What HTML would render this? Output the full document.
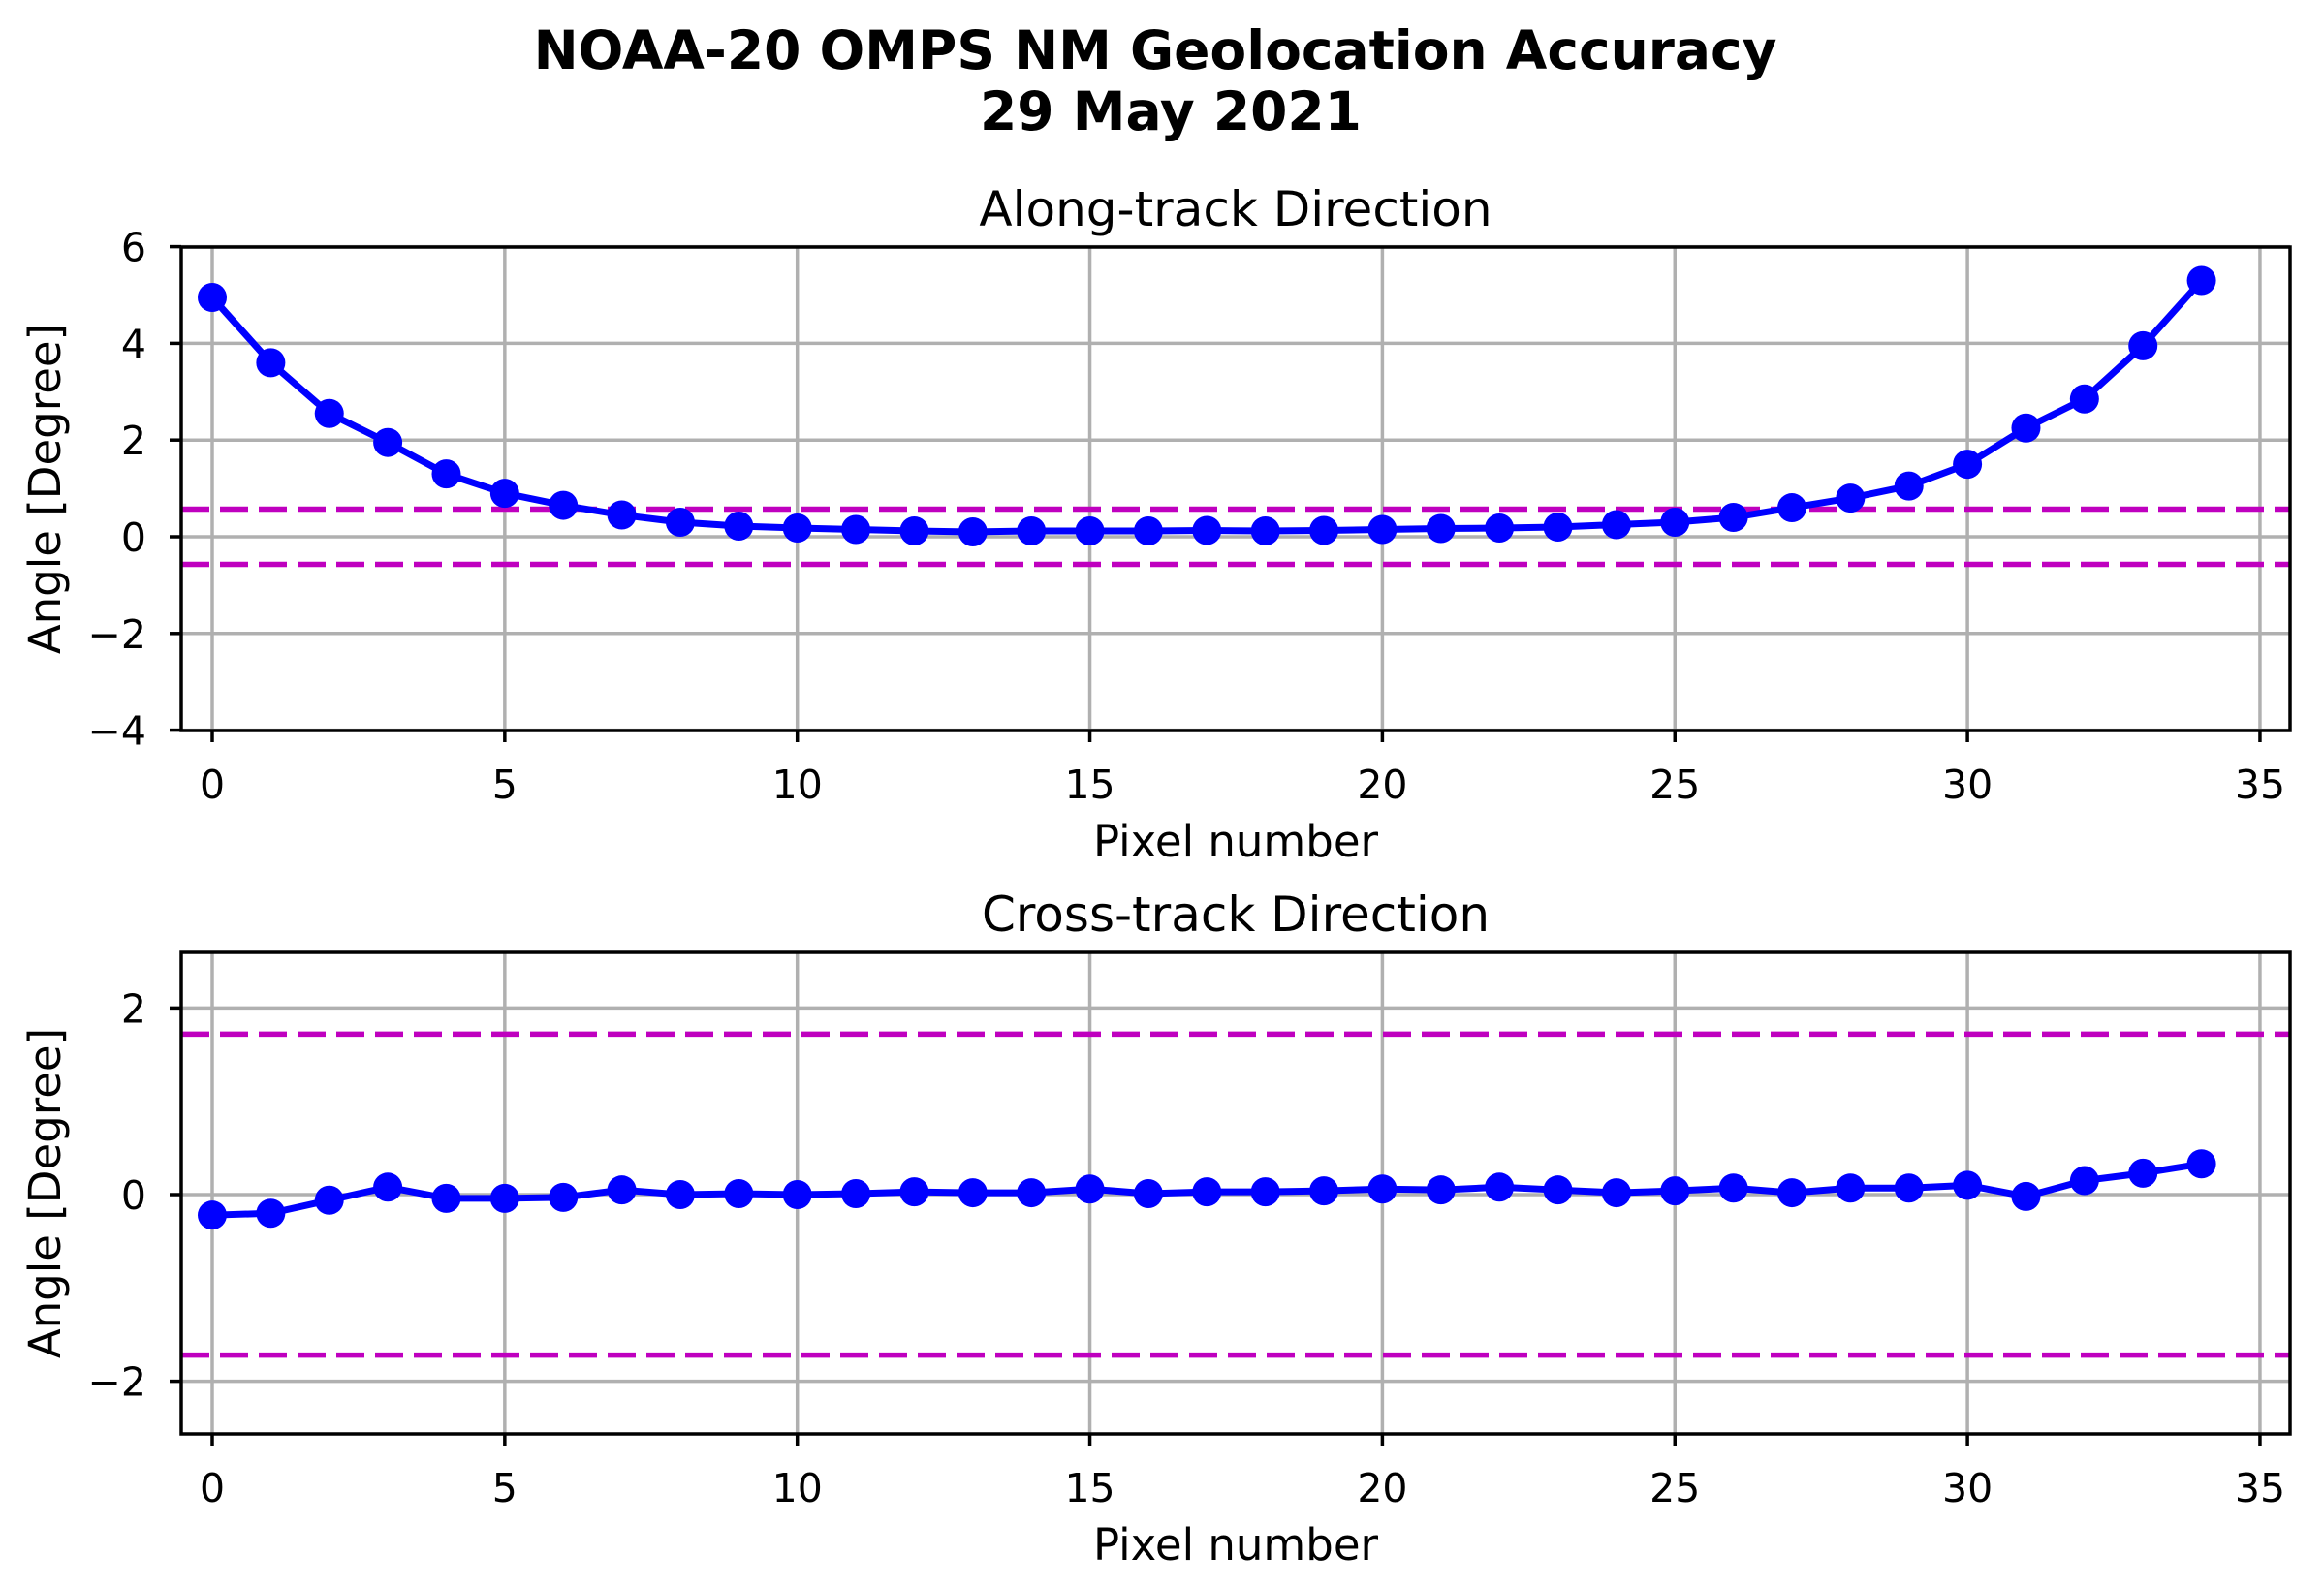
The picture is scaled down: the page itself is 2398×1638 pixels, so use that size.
<!DOCTYPE html>
<html><head><meta charset="utf-8"><style>body{margin:0;background:#fff}svg{display:block}</style></head>
<body>
<svg id="s" width="2398" height="1638" xmlns="http://www.w3.org/2000/svg" font-family="DejaVu Sans, Liberation Sans, sans-serif">
<text x="1192" y="71" text-anchor="middle" font-size="55" font-weight="bold">NOAA-20 OMPS NM Geolocation Accuracy</text>
<text x="1208" y="134" text-anchor="middle" font-size="55" font-weight="bold">29 May 2021</text>
</svg>
<script>
const s=document.getElementById('s');const NS='http://www.w3.org/2000/svg';
function el(t,a,txt){const e=document.createElementNS(NS,t);for(const k in a)e.setAttribute(k,a[k]);if(txt!==undefined)e.textContent=txt;s.appendChild(e);return e;}
const L=187,R=2363,x0=219,xs=60.37;
const X=v=>x0+v*xs;
function panel(top,bot,y0,ys,yt,title,data,dash){
 const Y=v=>y0-v*ys;
 for(let i=0;i<=35;i+=5){el('line',{x1:X(i),x2:X(i),y1:top,y2:bot,stroke:'#b0b0b0','stroke-width':3.5});
  el('line',{x1:X(i),x2:X(i),y1:bot,y2:bot+12,stroke:'#000','stroke-width':3.5});
  el('text',{x:X(i),y:bot+70,'text-anchor':'middle','font-size':41},String(i));}
 for(const t of yt){el('line',{x1:L,x2:R,y1:Y(t),y2:Y(t),stroke:'#b0b0b0','stroke-width':3.5});
  el('line',{x1:L-12,x2:L,y1:Y(t),y2:Y(t),stroke:'#000','stroke-width':3.5});
  el('text',{x:L-36,y:Y(t)+15,'text-anchor':'end','font-size':41},(t<0?'\u2212':'')+Math.abs(t));}
 for(const d of [dash,-dash])el('line',{x1:L,x2:R,y1:Y(d),y2:Y(d),stroke:'#bf00bf','stroke-width':5.5,'stroke-dasharray':'29 11'});
 el('polyline',{points:data.map((v,i)=>X(i)+','+Y(v)).join(' '),fill:'none',stroke:'#0000ff','stroke-width':7,'stroke-linejoin':'round'});
 data.forEach((v,i)=>el('circle',{cx:X(i),cy:Y(v),r:15,fill:'#0000ff'}));
 el('rect',{x:L,y:top,width:R-L,height:bot-top,fill:'none',stroke:'#000','stroke-width':3.5});
 el('text',{x:(L+R)/2,y:top-22,'text-anchor':'middle','font-size':50},title);
 el('text',{x:(L+R)/2,y:bot+130,'text-anchor':'middle','font-size':45},'Pixel number');
 const cy=(top+bot)/2;
 el('text',{x:0,y:0,'text-anchor':'middle','font-size':45,transform:`translate(62,${cy}) rotate(-90)`},'Angle [Degree]');
}
const a=[4.95,3.6,2.55,1.95,1.3,0.9,0.65,0.45,0.3,0.22,0.18,0.15,0.12,0.1,0.12,0.12,0.12,0.13,0.12,0.13,0.15,0.17,0.18,0.2,0.25,0.3,0.4,0.6,0.8,1.05,1.5,2.25,2.85,3.95,5.3];
const c=[-0.22,-0.2,-0.06,0.08,-0.04,-0.04,-0.03,0.05,0,0.01,0,0.01,0.03,0.02,0.02,0.06,0.01,0.03,0.03,0.04,0.06,0.05,0.08,0.05,0.02,0.04,0.07,0.02,0.07,0.07,0.1,-0.02,0.15,0.23,0.33];
panel(255,754,554,49.9,[6,4,2,0,-2,-4],'Along-track Direction',a,0.57);
panel(983,1480,1233,96.3,[2,0,-2],'Cross-track Direction',c,1.72);
</script>
</body></html>
